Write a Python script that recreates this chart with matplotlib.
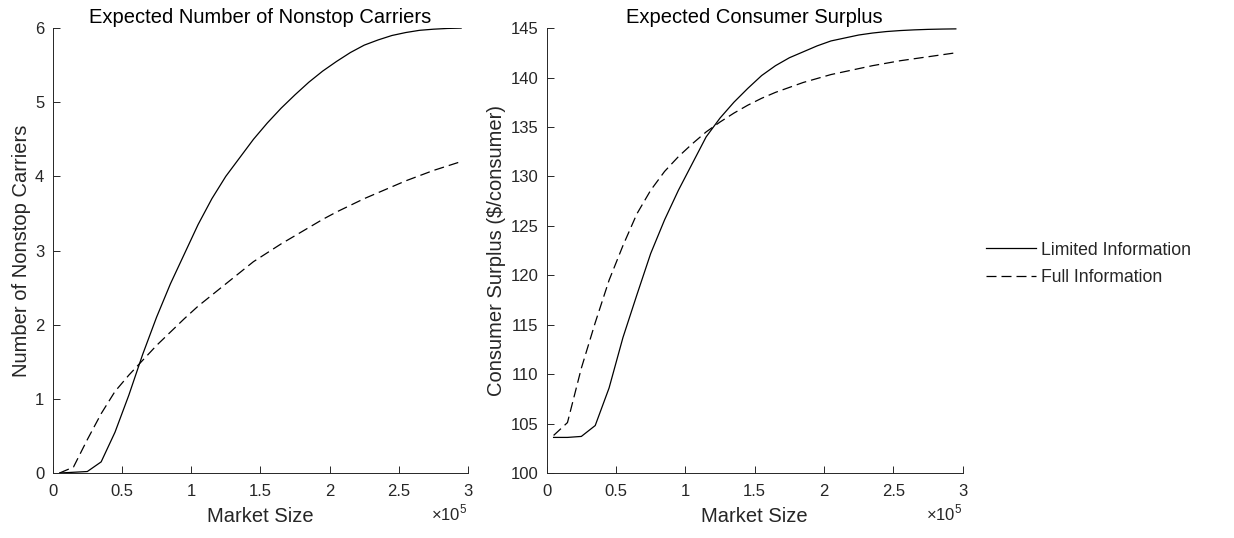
import matplotlib
matplotlib.use("Agg")
import matplotlib.pyplot as plt
import numpy as np

plt.rcParams['font.family'] = ['Liberation Sans', 'DejaVu Sans']
plt.rcParams['mathtext.fontset'] = 'custom'
plt.rcParams['mathtext.rm'] = 'Liberation Sans'

# market size grid (persons)
market = [5000, 15000, 25000, 35000, 45000, 55000, 65000, 75000, 85000, 95000,
          105000, 115000, 125000, 135000, 145000, 155000, 165000, 175000, 185000, 195000,
          205000, 215000, 225000, 235000, 245000, 255000, 265000, 275000, 285000, 295000]

# expected number of nonstop carriers
carriers_limited = [0.0, 0.01, 0.02, 0.15, 0.55, 1.05, 1.6, 2.1, 2.55, 2.95,
                    3.35, 3.7, 4.0, 4.25, 4.5, 4.72, 4.92, 5.1, 5.27, 5.42,
                    5.55, 5.67, 5.77, 5.84, 5.9, 5.94, 5.97, 5.985, 5.995, 6.0]
carriers_full = [0.0, 0.08, 0.45, 0.8, 1.1, 1.32, 1.52, 1.72, 1.9, 2.08,
                 2.25, 2.4, 2.55, 2.7, 2.85, 2.97, 3.09, 3.2, 3.31, 3.42,
                 3.52, 3.61, 3.7, 3.78, 3.86, 3.94, 4.01, 4.08, 4.14, 4.2]

# expected consumer surplus ($/consumer)
cs_limited = [103.6, 103.6, 103.7, 104.8, 108.6, 113.7, 118.0, 122.2, 125.6, 128.6,
              131.3, 134.0, 135.9, 137.5, 138.9, 140.2, 141.2, 142.0, 142.6, 143.2,
              143.7, 144.0, 144.3, 144.5, 144.65, 144.75, 144.82, 144.87, 144.9, 144.92]
cs_full = [103.8, 105.1, 110.6, 115.2, 119.5, 123.0, 126.2, 128.6, 130.5, 132.0,
           133.3, 134.5, 135.5, 136.4, 137.2, 137.9, 138.5, 139.0, 139.5, 139.9,
           140.3, 140.6, 140.9, 141.2, 141.45, 141.7, 141.9, 142.1, 142.3, 142.5]

x = np.array(market) / 1e5
txt = '#262626'

fig = plt.figure(figsize=(12.34, 5.38), dpi=100)
ax1 = fig.add_axes([0.0427, 0.1208, 0.3366, 0.827])
ax2 = fig.add_axes([0.4430, 0.1208, 0.3372, 0.827])

dash = (0, (8, 4))
for ax, lim, full in [(ax1, carriers_limited, carriers_full), (ax2, cs_limited, cs_full)]:
    ax.plot(x, lim, color='k', lw=0.9, label='Limited Information')
    ax.plot(x, full, color='k', lw=0.9, linestyle=dash, label='Full Information')
    ax.set_xlim(0, 3)
    ax.set_xticks([0, 0.5, 1, 1.5, 2, 2.5, 3])
    ax.set_xticklabels(['0', '0.5', '1', '1.5', '2', '2.5', '3'])
    ax.spines['top'].set_visible(False)
    ax.spines['right'].set_visible(False)
    for s in ['left', 'bottom']:
        ax.spines[s].set_color(txt)
        ax.spines[s].set_linewidth(0.7)
    ax.tick_params(direction='in', length=5, width=0.7, colors=txt, labelsize=12)
    ax.tick_params(axis='x', pad=8)
    ax.tick_params(axis='y', pad=6)
    ax.set_xlabel('Market Size', fontsize=14.5, color=txt, labelpad=6)
    ax.text(0.998, -0.09, r'$\times10^5$', transform=ax.transAxes, ha='right', va='center',
            fontsize=12, color=txt)

ax1.set_ylim(0, 6)
ax1.set_yticks([0, 1, 2, 3, 4, 5, 6])
ax1.set_ylabel('Number of Nonstop Carriers', fontsize=14.5, color=txt, labelpad=3)
ax1.set_title('Expected Number of Nonstop Carriers', fontsize=14.5, color='k', pad=4)

ax2.set_ylim(100, 145)
ax2.set_yticks(range(100, 146, 5))
ax2.set_ylabel('Consumer Surplus ($/consumer)', fontsize=14.5, color=txt, labelpad=3)
ax2.set_title('Expected Consumer Surplus', fontsize=14.5, color='k', pad=4)

leg = ax2.legend(loc='center left', bbox_to_anchor=(1.055, 0.47), frameon=False,
                 fontsize=12.7, handlelength=2.85, handletextpad=0.28, labelspacing=0.6,
                 borderpad=0, borderaxespad=0)
for t in leg.get_texts():
    t.set_color(txt)

fig.savefig('out.png', dpi=100)
